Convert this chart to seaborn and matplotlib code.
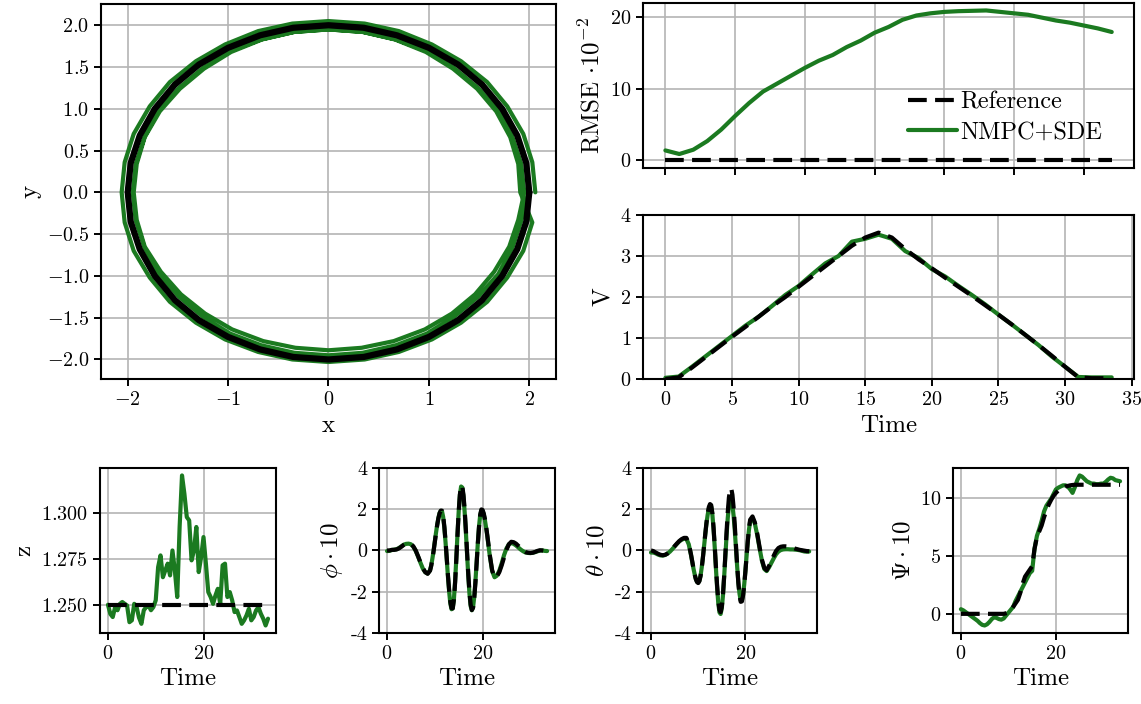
import matplotlib
matplotlib.use("Agg")
import matplotlib.pyplot as plt
import seaborn as sns

# --- data ---
GREEN = "#1b7a20"

# xy trajectory: reference circle and the flown laps
ref_x = [2.0, 1.97, 1.88, 1.73, 1.53, 1.29, 1.0, 0.68, 0.35, 0.0, -0.35, -0.68, -1.0,
         -1.29, -1.53, -1.73, -1.88, -1.97, -2.0, -1.97, -1.88, -1.73, -1.53, -1.29,
         -1.0, -0.68, -0.35, 0.0, 0.35, 0.68, 1.0, 1.29, 1.53, 1.73, 1.88, 1.97, 2.0]
ref_y = [0.0, 0.35, 0.68, 1.0, 1.29, 1.53, 1.73, 1.88, 1.97, 2.0, 1.97, 1.88, 1.73,
         1.53, 1.29, 1.0, 0.68, 0.35, 0.0, -0.35, -0.68, -1.0, -1.29, -1.53, -1.73,
         -1.88, -1.97, -2.0, -1.97, -1.88, -1.73, -1.53, -1.29, -1.0, -0.68, -0.35, 0.0]

traj_x = [2.06, 2.03, 1.94, 1.78, 1.58, 1.32, 1.03, 0.70, 0.36, 0.0, -0.36, -0.70, -1.03,
          -1.32, -1.58, -1.78, -1.94, -2.03, -2.06, -2.03, -1.94, -1.78, -1.58, -1.32,
          -1.03, -0.70, -0.36, 0.0, 0.36, 0.70, 1.03, 1.32, 1.58, 1.78, 1.94, 2.03,
          1.91, 1.89, 1.81, 1.67, 1.48, 1.24, 0.97, 0.66, 0.34, 0.0, -0.34, -0.66, -0.97,
          -1.24, -1.48, -1.68, -1.83, -1.91, -1.94, -1.91, -1.83, -1.67, -1.47, -1.23,
          -0.96, -0.65, -0.33, 0.0, 0.33, 0.65, 0.96, 1.23, 1.46, 1.65, 1.80, 1.89,
          1.95, 1.92, 1.83, 1.69, 1.49, 1.25, 0.98, 0.67, 0.34, 0.0, -0.34, -0.67, -0.98,
          -1.25, -1.49, -1.69, -1.83, -1.92, -1.95, -1.92, -1.83, -1.69, -1.49, -1.25,
          -0.98, -0.67, -0.34, 0.0, 0.34, 0.67, 0.98, 1.25, 1.49, 1.69, 1.83, 1.92, 2.0]
traj_y = [0.0, 0.36, 0.70, 1.03, 1.32, 1.57, 1.77, 1.93, 2.02, 2.05, 2.02, 1.93, 1.77,
          1.57, 1.32, 1.03, 0.70, 0.36, 0.0, -0.36, -0.70, -1.02, -1.31, -1.56, -1.76,
          -1.91, -2.0, -2.03, -2.0, -1.91, -1.76, -1.56, -1.31, -1.02, -0.70, -0.36,
          0.0, 0.34, 0.66, 0.97, 1.24, 1.48, 1.68, 1.83, 1.92, 1.95, 1.92, 1.83, 1.68,
          1.48, 1.24, 0.97, 0.66, 0.34, 0.0, -0.33, -0.65, -0.95, -1.22, -1.45, -1.64,
          -1.78, -1.86, -1.89, -1.86, -1.78, -1.64, -1.45, -1.22, -0.95, -0.65, -0.33,
          0.0, 0.34, 0.67, 0.98, 1.25, 1.49, 1.69, 1.83, 1.92, 1.95, 1.92, 1.83, 1.69,
          1.49, 1.25, 0.98, 0.67, 0.34, 0.0, -0.34, -0.67, -0.98, -1.25, -1.49, -1.69,
          -1.83, -1.92, -1.95, -1.92, -1.83, -1.69, -1.49, -1.25, -0.98, -0.67, -0.34, 0.02]

# RMSE
t_rmse = [0, 1, 2, 3, 4, 5, 6, 7, 8, 9, 10, 11, 12, 13, 14, 15, 16, 17, 18, 19, 20,
          21, 22, 23, 24, 25, 26, 27, 28, 29, 30, 31, 32]
rmse_sde = [1.4, 0.9, 1.5, 2.7, 4.3, 6.2, 8.0, 9.6, 10.7, 11.8, 12.9, 13.9, 14.7, 15.8,
            16.7, 17.8, 18.6, 19.6, 20.2, 20.5, 20.7, 20.8, 20.85, 20.9, 20.7, 20.5,
            20.3, 19.9, 19.5, 19.2, 18.8, 18.4, 17.9]
t_rmse_ref = [0, 32]
rmse_ref = [0.0, 0.0]

# speed
t_v = [0, 1, 2, 3, 4, 5, 6, 7, 8, 9, 10, 11, 12, 13, 14, 15, 16, 17, 18, 19, 20,
       21, 22, 23, 24, 25, 26, 27, 28, 29, 30, 31, 32, 33, 33.5]
v_ref = [0.0, 0.04, 0.28, 0.53, 0.78, 1.03, 1.27, 1.52, 1.77, 2.0, 2.25, 2.5, 2.75, 3.0,
         3.25, 3.45, 3.57, 3.45, 3.17, 2.92, 2.7, 2.47, 2.25, 2.03, 1.8, 1.57, 1.33,
         1.08, 0.83, 0.57, 0.3, 0.04, 0.02, 0.02, 0.02]
v_sde = [0.03, 0.06, 0.3, 0.55, 0.8, 1.05, 1.3, 1.52, 1.78, 2.05, 2.27, 2.55, 2.82, 3.0,
         3.35, 3.42, 3.52, 3.42, 3.12, 2.95, 2.68, 2.5, 2.27, 2.05, 1.82, 1.57, 1.33,
         1.08, 0.83, 0.55, 0.3, 0.05, 0.04, 0.04, 0.04]

# half-second grid (z, Psi)
t_half = [0, 0.5, 1, 1.5, 2, 2.5, 3, 3.5, 4, 4.5, 5, 5.5, 6, 6.5, 7, 7.5, 8, 8.5, 9, 9.5,
          10, 10.5, 11, 11.5, 12, 12.5, 13, 13.5, 14, 14.5, 15, 15.5, 16, 16.5, 17, 17.5,
          18, 18.5, 19, 19.5, 20, 20.5, 21, 21.5, 22, 22.5, 23, 23.5, 24, 24.5, 25, 25.5,
          26, 26.5, 27, 27.5, 28, 28.5, 29, 29.5, 30, 30.5, 31, 31.5, 32, 32.5, 33, 33.5]

t_z_ref = [0, 33.5]
z_ref = [1.25, 1.25]
z_sde = [1.2500, 1.2450, 1.2433, 1.2487, 1.2470, 1.2505, 1.2515, 1.2505, 1.2496, 1.2405,
         1.2415, 1.2505, 1.2487, 1.2430, 1.2396, 1.2470, 1.2487, 1.2496, 1.2470, 1.2487,
         1.2524, 1.2705, 1.2769, 1.2650, 1.2687, 1.2724, 1.2660, 1.2796, 1.2687, 1.2542,
         1.2924, 1.3205, 1.3105, 1.2978, 1.2960, 1.2742, 1.2796, 1.2924, 1.2678, 1.2760,
         1.2869, 1.2724, 1.2569, 1.2542, 1.2505, 1.2551, 1.2587, 1.2505, 1.2715, 1.2724,
         1.2542, 1.2569, 1.2524, 1.2460, 1.2469, 1.2433, 1.2396, 1.2415, 1.2442, 1.2478,
         1.2415, 1.2433, 1.2469, 1.2487, 1.2451, 1.2424, 1.2387, 1.2424]

psi_ref = [0, 0, 0, 0, 0, 0, 0, 0, 0, 0, 0, 0, 0, 0, 0, 0, 0, 0, 0,
           0.05, 0.12, 0.3, 0.6, 0.9, 1.2, 1.8, 2.6, 3.2, 3.5, 3.8, 4.1, 5.6, 6.6, 7.1,
           7.6, 8.3, 8.9, 9.4, 9.8, 10.15, 10.4, 10.6, 10.75, 10.85, 10.95, 11.0, 11.05,
           11.08, 11.1, 11.1, 11.1, 11.1, 11.1, 11.1, 11.1, 11.1, 11.1, 11.1, 11.1, 11.1,
           11.1, 11.1, 11.1, 11.1, 11.1, 11.1, 11.1, 11.1]
psi_sde = [0.4, 0.3, 0.15, 0.0, -0.15, -0.3, -0.45, -0.6, -0.8, -0.95, -1.0, -0.9, -0.7,
           -0.45, -0.3, -0.35, -0.45, -0.5, -0.4, -0.15,
           0.1, 0.35, 0.6, 1.1, 1.5, 1.9, 2.3, 2.7, 3.1, 3.5, 3.7, 5.6, 6.7, 7.3, 8.0, 8.8,
           9.3, 9.6, 9.9, 10.3,
           10.7, 10.85, 10.95, 11.05, 11.05, 10.95, 10.7, 10.4, 10.9, 11.5, 11.9, 11.8,
           11.6, 11.4, 11.3, 11.2, 11.2, 11.15, 11.15, 11.2,
           11.2, 11.35, 11.55, 11.7, 11.65, 11.5, 11.45, 11.4]

# attitude grid (finer around the oscillations)
t_att = [0, 0.5, 1, 1.5, 2, 2.5, 3, 3.5, 4, 4.5, 5, 5.5, 6, 6.5, 7, 7.5, 8, 8.5, 9,
         9.25, 9.5, 9.75, 10, 10.25, 10.5, 10.75, 11, 11.25, 11.5, 11.75, 12,
         12.25, 12.5, 12.75, 13, 13.25, 13.5, 13.75, 14, 14.25, 14.5, 14.75, 15,
         15.25, 15.5, 15.75, 16, 16.25, 16.5, 16.75, 17, 17.25, 17.5, 17.75, 18,
         18.25, 18.5, 18.75, 19, 19.25, 19.5, 19.75, 20, 20.25, 20.5, 20.75, 21,
         21.5, 22, 22.5, 23, 23.5, 24, 24.5, 25, 25.5, 26, 26.5, 27, 27.5, 28, 28.5,
         29, 29.5, 30, 30.5, 31, 31.5, 32, 32.5, 33, 33.5]

phi_ref = [0.0, 0.0, 0.03, 0.03, 0.05, 0.1, 0.18, 0.27, 0.33, 0.35, 0.32, 0.2, 0.0,
           -0.28, -0.58, -0.86, -1.05, -1.13, -0.98,
           -0.74, -0.41, -0.02, 0.41, 0.84, 1.23, 1.56, 1.80, 1.93, 1.93, 1.67, 1.15,
           0.45, -0.37, -1.19, -1.92, -2.49, -2.80, -2.81, -2.39, -1.55, -0.44, 0.77, 1.88,
           2.71, 3.14, 3.11, 2.69, 1.96, 1.00, -0.08, -1.12, -2.01, -2.62, -2.89, -2.78,
           -2.31, -1.56, -0.64, 0.31, 1.14, 1.73, 1.99, 1.96, 1.79, 1.51, 1.14, 0.71,
           -0.21, -0.96, -1.31, -1.26, -1.05, -0.72, -0.33, 0.03, 0.30, 0.42, 0.40, 0.33,
           0.22, 0.10, -0.01, -0.08, -0.11, -0.12, -0.11, -0.07, -0.02, 0.01, 0.0, -0.02, -0.03]
phi_sde = [-0.03, -0.02, 0.02, 0.04, 0.06, 0.12, 0.2, 0.28, 0.32, 0.33, 0.3, 0.18, -0.02,
           -0.3, -0.6, -0.88, -1.06, -1.12, -0.96,
           -0.72, -0.38, 0.0, 0.43, 0.86, 1.25, 1.58, 1.82, 1.92, 1.9, 1.62, 1.08,
           0.38, -0.45, -1.28, -2.0, -2.58, -2.85, -2.8, -2.35, -1.48, -0.38, 0.82, 1.9,
           2.7, 3.1, 3.05, 2.6, 1.85, 0.9, -0.18, -1.22, -2.1, -2.7, -2.9, -2.76,
           -2.26, -1.5, -0.58, 0.36, 1.16, 1.72, 1.96, 1.92, 1.74, 1.45, 1.08, 0.66,
           -0.25, -1.0, -1.3, -1.22, -0.98, -0.62, -0.22, 0.1, 0.3, 0.36, 0.32, 0.24,
           0.14, 0.04, -0.04, -0.1, -0.12, -0.13, -0.11, -0.08, -0.04, -0.01, 0.0, -0.02, -0.03]

theta_ref = [0.0, -0.03, -0.1, -0.16, -0.21, -0.23, -0.21, -0.15, -0.05, 0.07, 0.21, 0.34,
             0.46, 0.55, 0.61, 0.61, 0.34, -0.22, -0.87,
             -1.16, -1.39, -1.53, -1.58, -1.49, -1.24, -0.84, -0.34, 0.23, 0.81, 1.34, 1.78,
             2.10, 2.25, 2.20, 1.81, 1.12, 0.22, -0.76, -1.68, -2.43, -2.88, -2.99, -2.73,
             -2.12, -1.23, -0.20, 0.87, 1.83, 2.56, 2.97, 3.01, 2.70, 2.08, 1.23, 0.26,
             -0.71, -1.56, -2.18, -2.49, -2.47, -2.18, -1.68, -1.01, -0.27, 0.45, 1.07, 1.49,
             1.65, 1.36, 0.82, 0.16, -0.45, -0.85, -0.96, -0.75, -0.5, -0.25, -0.02, 0.12,
             0.18, 0.2, 0.2, 0.19, 0.17, 0.13, 0.09, 0.06, 0.03, 0.01, -0.01, -0.03, -0.04]
theta_sde = [-0.1, -0.1, -0.14, -0.2, -0.24, -0.25, -0.22, -0.15, -0.06, 0.06, 0.19, 0.32,
             0.44, 0.52, 0.57, 0.56, 0.3, -0.25, -0.88,
             -1.15, -1.38, -1.52, -1.56, -1.47, -1.22, -0.82, -0.33, 0.22, 0.78, 1.3, 1.72,
             2.03, 2.18, 2.13, 1.74, 1.05, 0.15, -0.85, -1.78, -2.55, -3.0, -3.08, -2.8,
             -2.17, -1.28, -0.3, 0.7, 1.55, 2.15, 2.45, 2.48, 2.2, 1.68, 0.96, 0.1,
             -0.78, -1.55, -2.1, -2.42, -2.43, -2.15, -1.64, -0.98, -0.26, 0.42, 1.0, 1.42,
             1.58, 1.3, 0.75, 0.1, -0.5, -0.9, -1.0, -0.82, -0.6, -0.38, -0.18, -0.05,
             0.02, 0.05, 0.06, 0.06, 0.05, 0.05, 0.04, 0.03, 0.01, -0.02, -0.05, -0.06, -0.05]

# --- style ---
sns.set_theme(style="ticks")
plt.rcParams.update({
    "font.family": "serif",
    "font.serif": ["cmr10"],
    "mathtext.fontset": "cm",
    "axes.formatter.use_mathtext": True,
    "xtick.labelsize": 14.5,
    "ytick.labelsize": 14.5,
    "axes.labelsize": 18,
    "legend.fontsize": 17.5,
    "axes.linewidth": 1.5,
    "axes.edgecolor": "black",
    "axes.labelcolor": "black",
    "text.color": "black",
    "xtick.color": "black",
    "ytick.color": "black",
    "xtick.major.width": 1.4,
    "ytick.major.width": 1.4,
    "xtick.major.size": 5,
    "ytick.major.size": 5,
})

DASH = (0, (4.5, 2))
LW = 3

fig = plt.figure(figsize=(11.41, 7.04), dpi=100)
ax_xy = fig.add_axes([0.0885, 0.4616, 0.3988, 0.5327])
ax_rmse = fig.add_axes([0.5636, 0.7614, 0.4303, 0.2344])
ax_v = fig.add_axes([0.5636, 0.4616, 0.4303, 0.2330])
ax_z = fig.add_axes([0.0876, 0.1009, 0.1543, 0.2344])
ax_phi = fig.add_axes([0.3322, 0.1009, 0.1543, 0.2344])
ax_theta = fig.add_axes([0.5636, 0.1009, 0.1525, 0.2344])
ax_psi = fig.add_axes([0.8352, 0.1009, 0.1534, 0.2344])

for ax in [ax_xy, ax_rmse, ax_v, ax_z, ax_phi, ax_theta, ax_psi]:
    ax.grid(True, color="#b4b4b4", lw=1.2)
    ax.set_axisbelow(True)

# xy
sns.lineplot(x=traj_x, y=traj_y, sort=False, estimator=None, color=GREEN, lw=LW, ax=ax_xy)
sns.lineplot(x=ref_x, y=ref_y, sort=False, estimator=None, color="black", lw=4.5, ax=ax_xy, zorder=3)
ax_xy.set_xticks([-2, -1, 0, 1, 2])
ax_xy.set_yticks([-2.0, -1.5, -1.0, -0.5, 0.0, 0.5, 1.0, 1.5, 2.0])
ax_xy.set_xlabel("x")
ax_xy.set_ylabel("y")

# RMSE
sns.lineplot(x=t_rmse_ref, y=rmse_ref, color="black", lw=LW, linestyle=DASH, ax=ax_rmse,
             label="Reference", zorder=3)
sns.lineplot(x=t_rmse, y=rmse_sde, color=GREEN, lw=LW, ax=ax_rmse, label="NMPC+SDE")
ax_rmse.set_yticks([0, 10, 20])
ax_rmse.set_xticks([0, 5, 10, 15, 20, 25, 30])
ax_rmse.tick_params(labelbottom=False)
ax_rmse.set_xlabel("")
ax_rmse.set_ylabel(r"RMSE $\cdot 10^{-2}$")
ax_rmse.legend(loc="center right", bbox_to_anchor=(0.965, 0.305), frameon=False,
               handletextpad=0.15, borderaxespad=0.2, labelspacing=0.3)

# V
sns.lineplot(x=t_v, y=v_sde, color=GREEN, lw=LW, ax=ax_v)
sns.lineplot(x=t_v, y=v_ref, color="black", lw=LW, linestyle=DASH, ax=ax_v, zorder=3)
ax_v.set_ylim(0, 4)
ax_v.set_yticks([0, 1, 2, 3, 4])
ax_v.set_xticks([0, 5, 10, 15, 20, 25, 30, 35])
ax_v.set_xlabel("Time")
ax_v.set_ylabel("V")

# z
sns.lineplot(x=t_half, y=z_sde, color=GREEN, lw=LW, ax=ax_z)
sns.lineplot(x=t_z_ref, y=z_ref, color="black", lw=LW, linestyle=DASH, ax=ax_z, zorder=3)
ax_z.set_yticks([1.25, 1.275, 1.3])
ax_z.set_ylabel("z")

# phi
sns.lineplot(x=t_att, y=phi_sde, color=GREEN, lw=LW, ax=ax_phi)
sns.lineplot(x=t_att, y=phi_ref, color="black", lw=LW, linestyle=DASH, ax=ax_phi, zorder=3)
ax_phi.set_ylim(-4, 4)
ax_phi.set_yticks([-4, -2, 0, 2, 4])
ax_phi.set_yticklabels(["-4", "-2", "0", "2", "4"])
ax_phi.set_ylabel(r"$\phi \cdot 10$")

# theta
sns.lineplot(x=t_att, y=theta_sde, color=GREEN, lw=LW, ax=ax_theta)
sns.lineplot(x=t_att, y=theta_ref, color="black", lw=LW, linestyle=DASH, ax=ax_theta, zorder=3)
ax_theta.set_ylim(-4, 4)
ax_theta.set_yticks([-4, -2, 0, 2, 4])
ax_theta.set_yticklabels(["-4", "-2", "0", "2", "4"])
ax_theta.set_ylabel(r"$\theta \cdot 10$")

# Psi
sns.lineplot(x=t_half, y=psi_sde, color=GREEN, lw=LW, ax=ax_psi)
sns.lineplot(x=t_half, y=psi_ref, color="black", lw=LW, linestyle=DASH, ax=ax_psi, zorder=3)
ax_psi.set_yticks([0, 5, 10])
ax_psi.set_ylabel(r"$\Psi \cdot 10$")

for ax in [ax_z, ax_phi, ax_theta, ax_psi]:
    ax.set_xticks([0, 20])
    ax.set_xlabel("Time")

fig.savefig("out.png", dpi=100)
